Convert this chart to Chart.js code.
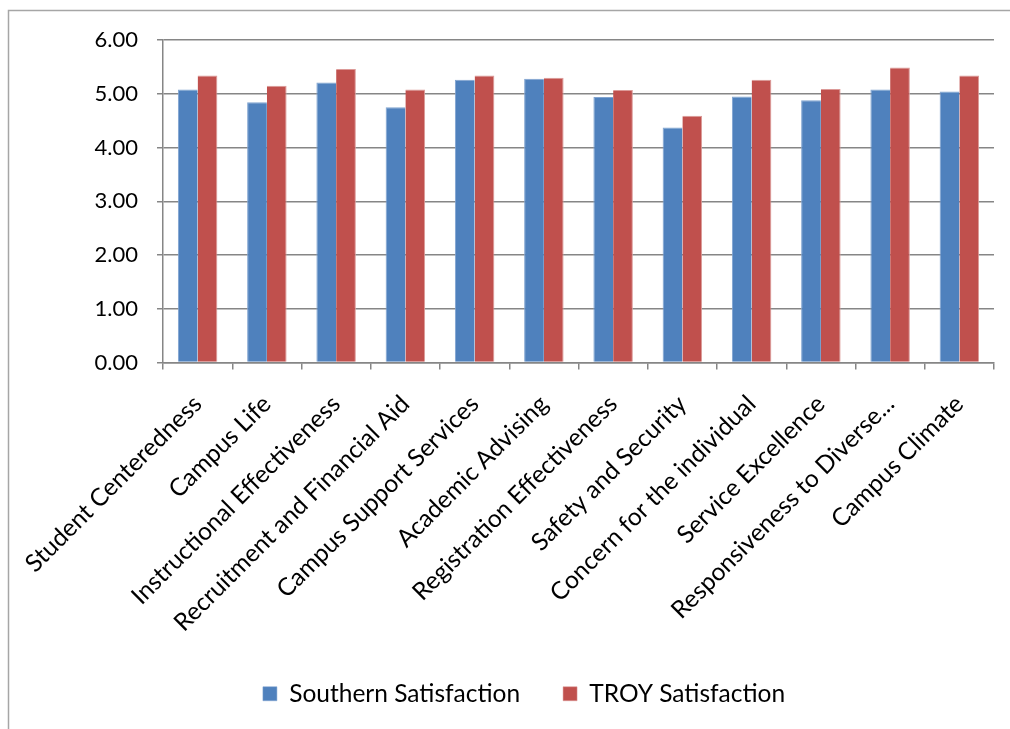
<!DOCTYPE html>
<html>
<head>
<meta charset="utf-8">
<script src="https://cdn.jsdelivr.net/npm/chart.js@4/dist/chart.umd.min.js"></script>
<style>
  html, body { margin: 0; padding: 0; background: #fff; }
  #wrap { position: relative; width: 1010px; height: 729px; }
</style>
</head>
<body>
<div id="wrap"><canvas id="satisfactionChart"></canvas></div>
<script>
// categories and series
const categories = [
    'Student Centeredness',
    'Campus Life',
    'Instructional Effectiveness',
    'Recruitment and Financial Aid',
    'Campus Support Services',
    'Academic Advising',
    'Registration Effectiveness',
    'Safety and Security',
    'Concern for the individual',
    'Service Excellence',
    'Responsiveness to Diverse...',
    'Campus Climate'
];
const southernSatisfaction = [5.08, 4.84, 5.21, 4.75, 5.26, 5.28, 4.94, 4.37, 4.95, 4.88, 5.08, 5.04];
const troySatisfaction = [5.34, 5.15, 5.46, 5.08, 5.34, 5.30, 5.07, 4.59, 5.26, 5.09, 5.49, 5.34];
const yTicks = [0, 1, 2, 3, 4, 5, 6];

const gridGray = '#868686';
const fontFamily = 'Lato, "Open Sans", sans-serif';

// outer frame of the chart (left and top edges show in the picture)
const framePlugin = {
    id: 'frame',
    beforeDraw(chart) {
        const ctx = chart.ctx;
        ctx.save();
        ctx.strokeStyle = '#a6a6a6';
        ctx.lineWidth = 1.5;
        ctx.strokeRect(8.5, 10.5, 1010, 729);
        ctx.restore();
    }
};

// legend sits a little right of the canvas centre in the original
const legendShift = {
    id: 'legendShift',
    afterLayout(chart) {
        if (chart.legend) {
            chart.legend.left += 22;
            chart.legend.right += 22;
        }
    }
};

document.addEventListener('DOMContentLoaded', function() {
    const ctx = document.getElementById('satisfactionChart');
    new Chart(ctx, {
        type: 'bar',
        data: {
            labels: categories,
            datasets: [{
                label: 'Southern Satisfaction',
                data: southernSatisfaction,
                backgroundColor: '#4F81BD',
                borderColor: '#7fa3d0',
                borderWidth: { top: 1, left: 1, right: 0, bottom: 0 },
                categoryPercentage: 0.57,
                barPercentage: 1.0
            }, {
                label: 'TROY Satisfaction',
                data: troySatisfaction,
                backgroundColor: '#C0504D',
                borderColor: '#dc9a98',
                borderWidth: { top: 1, left: 0, right: 1, bottom: 0 },
                categoryPercentage: 0.57,
                barPercentage: 1.0
            }]
        },
        options: {
            responsive: true,
            maintainAspectRatio: false,
            animation: false,
            layout: {
                padding: { top: 40, left: 10, right: 16, bottom: 13 }
            },
            scales: {
                x: {
                    offset: true,
                    grid: {
                        offset: true,
                        drawOnChartArea: false,
                        color: gridGray,
                        lineWidth: 1.5,
                        tickLength: 7
                    },
                    border: { color: gridGray, width: 1.5 },
                    ticks: {
                        color: '#000',
                        minRotation: 45,
                        maxRotation: 45,
                        autoSkip: false,
                        padding: 20,
                        font: { family: fontFamily, size: 24.5 }
                    },
                    afterFit(scale) {
                        scale.paddingLeft = 0;
                        scale.paddingRight = 0;
                        scale.height = 276;
                    }
                },
                y: {
                    min: 0,
                    max: 6,
                    afterBuildTicks(scale) {
                        scale.ticks = yTicks.map(v => ({ value: v }));
                    },
                    grid: {
                        color: gridGray,
                        lineWidth: 1.5,
                        tickLength: 6
                    },
                    border: { color: gridGray, width: 1.5 },
                    ticks: {
                        color: '#000',
                        padding: 19,
                        font: { family: fontFamily, size: 22 },
                        callback: function(value) {
                            return Number(value).toFixed(2);
                        }
                    },
                    afterFit(scale) {
                        scale.width = 153;
                    }
                }
            },
            plugins: {
                legend: {
                    position: 'bottom',
                    labels: {
                        color: '#000',
                        boxWidth: 14,
                        boxHeight: 14,
                        padding: 43,
                        font: { family: fontFamily, size: 24.5 }
                    }
                },
                tooltip: { enabled: false }
            }
        },
        plugins: [framePlugin, legendShift]
    });
});
</script>
</body>
</html>
